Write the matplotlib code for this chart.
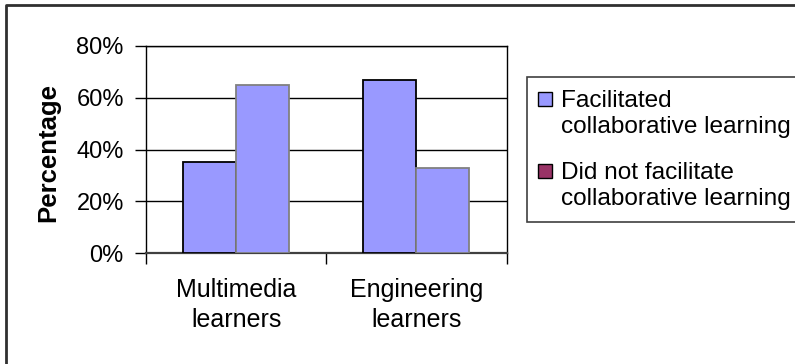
import matplotlib
matplotlib.use("Agg")
import matplotlib.pyplot as plt
from matplotlib.patches import Rectangle
from matplotlib.lines import Line2D
from matplotlib.ticker import FuncFormatter

plt.rcParams['font.family'] = ['Liberation Sans', 'DejaVu Sans']

categories = ['Multimedia\nlearners', 'Engineering\nlearners']
facilitated = [35, 67]
not_facilitated = [65, 33]
series_names = ['Facilitated\ncollaborative learning',
                'Did not facilitate\ncollaborative learning']
yticks = [0, 20, 40, 60, 80]

W, H = 795, 364
fig = plt.figure(figsize=(W / 100, H / 100), dpi=100)


def fx(px):
    return px / W


def fy(py):
    return 1 - py / H


ax = fig.add_axes([fx(146), fy(253), fx(506.5) - fx(146), fy(46) - fy(253)])

bw = 0.294
x = list(range(len(categories)))
ax.bar([i - bw / 2 for i in x], facilitated, width=bw, color='#9999FF',
       edgecolor='black', linewidth=1.3, zorder=3)
ax.bar([i + bw / 2 for i in x], not_facilitated, width=bw, color='#9999FF',
       edgecolor='#808080', linewidth=1.3, zorder=3)

ax.set_xlim(-0.5, 1.5)
ax.set_ylim(0, 80)
ax.set_yticks(yticks)
ax.yaxis.set_major_formatter(FuncFormatter(lambda v, p: '%d%%' % v))
ax.yaxis.grid(True, color='black', linewidth=1.0, zorder=0)

ax.set_xticks([-0.5, 0.5, 1.5])
ax.set_xticklabels([])
ax.set_xticks(x, minor=True)
ax.set_xticklabels(categories, minor=True, fontsize=18, linespacing=1.3)
ax.tick_params(axis='x', which='minor', length=0, pad=18)
ax.tick_params(axis='x', which='major', length=8, width=1, direction='out')
ax.tick_params(axis='y', length=8, width=1, direction='out', labelsize=17, pad=8)

for s in ax.spines.values():
    s.set_color('black')
    s.set_linewidth(1.0)
ax.spines['bottom'].set_color('#404040')
ax.spines['bottom'].set_linewidth(1.6)

fig.text(fx(48), fy(152), 'Percentage', rotation=90, ha='center', va='center',
         fontsize=18.5, fontweight='bold')

# legend box (drawn by hand so the swatch sits on the first line)
fig.patches.append(Rectangle((fx(527), fy(222)), fx(300), fy(77) - fy(222),
                             transform=fig.transFigure, facecolor='white',
                             edgecolor='#404040', linewidth=1.2))
swatch = ['#9999FF', '#993366']
first_base = [107, 179]
for name, col, yb in zip(series_names, swatch, first_base):
    fig.patches.append(Rectangle((fx(538), fy(yb - 1)), fx(14), fy(yb - 15) - fy(yb - 1),
                                 transform=fig.transFigure, facecolor=col,
                                 edgecolor='black', linewidth=1.0))
    line1, line2 = name.split('\n')
    fig.text(fx(561), fy(yb), line1, ha='left', va='baseline', fontsize=17.6)
    fig.text(fx(561), fy(yb + 26.5), line2, ha='left', va='baseline', fontsize=17.6)

# outer chart border (left and top only visible)
fig.add_artist(Line2D([fx(6), fx(6), fx(800)], [fy(370), fy(5), fy(5)],
                      transform=fig.transFigure, color='#303030', linewidth=2))

fig.savefig('out.png', dpi=100)
